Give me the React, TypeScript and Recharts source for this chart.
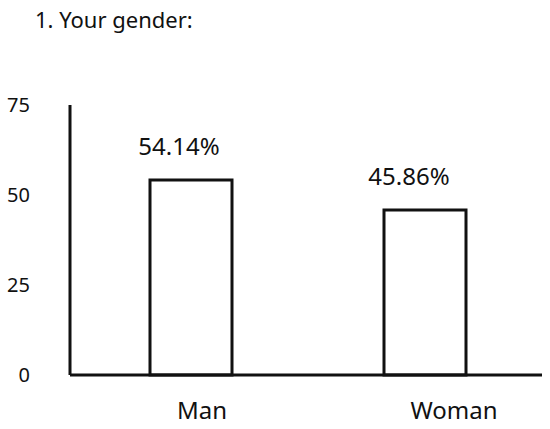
import { Bar, BarChart, LabelList, XAxis, YAxis } from "recharts";

const categories = ["Man", "Woman"];
const shares = [54.14, 45.86];
const shareLabels = ["54.14%", "45.86%"];
const yTicks = [0, 25, 50, 75];

const data = categories.map((name, i) => ({ name, value: shares[i], label: shareLabels[i] }));

const FONT = "'Noto Sans', sans-serif";

// the source shifts its texts a little off the bar centres
const tickShift = [11, 29];
const labelShift = [-12, -16];

function CategoryTick(props: any) {
    const { x, y, payload, index } = props;
    return (
        <text x={x + (tickShift[index] ?? 0)} y={y} dy="0.71em" textAnchor="middle" fontSize={24} fontFamily={FONT} fill="#111">
            {payload.value}
        </text>
    );
}

function ValueLabel(props: any) {
    const { x, y, width, index, value } = props;
    return (
        <text x={x + width / 2 + (labelShift[index] ?? 0)} y={y - 25} textAnchor="middle" fontSize={24} fontFamily={FONT} fill="#111">
            {value}
        </text>
    );
}

export default function App() {
    return (
        <div style={{ position: "absolute", left: 0, top: 0, width: 550, height: 429, background: "#fff" }}>
            <div style={{ position: "absolute", left: 35, top: 8, fontFamily: FONT, fontSize: 22, lineHeight: "22px", color: "#111" }}>
                1. Your gender:
            </div>
            <BarChart width={550} height={429} data={data} margin={{ top: 105, right: 8, left: 0, bottom: 0 }}>
                <XAxis
                    dataKey="name"
                    height={54}
                    padding={{ left: 4, right: 0 }}
                    axisLine={{ stroke: "#111", strokeWidth: 3 }}
                    tickLine={false}
                    tickSize={6}
                    tickMargin={21}
                    tick={<CategoryTick />}
                />
                <YAxis
                    width={70}
                    domain={[0, 75]}
                    ticks={yTicks}
                    axisLine={{ stroke: "#111", strokeWidth: 3 }}
                    tickLine={false}
                    tickSize={6}
                    tickMargin={34}
                    tick={{ fontSize: 20, fontFamily: FONT, fill: "#111" }}
                />
                <Bar dataKey="value" barSize={82} fill="#fff" stroke="#111" strokeWidth={3} isAnimationActive={false}>
                    <LabelList dataKey="label" content={<ValueLabel />} />
                </Bar>
            </BarChart>
        </div>
    );
}
